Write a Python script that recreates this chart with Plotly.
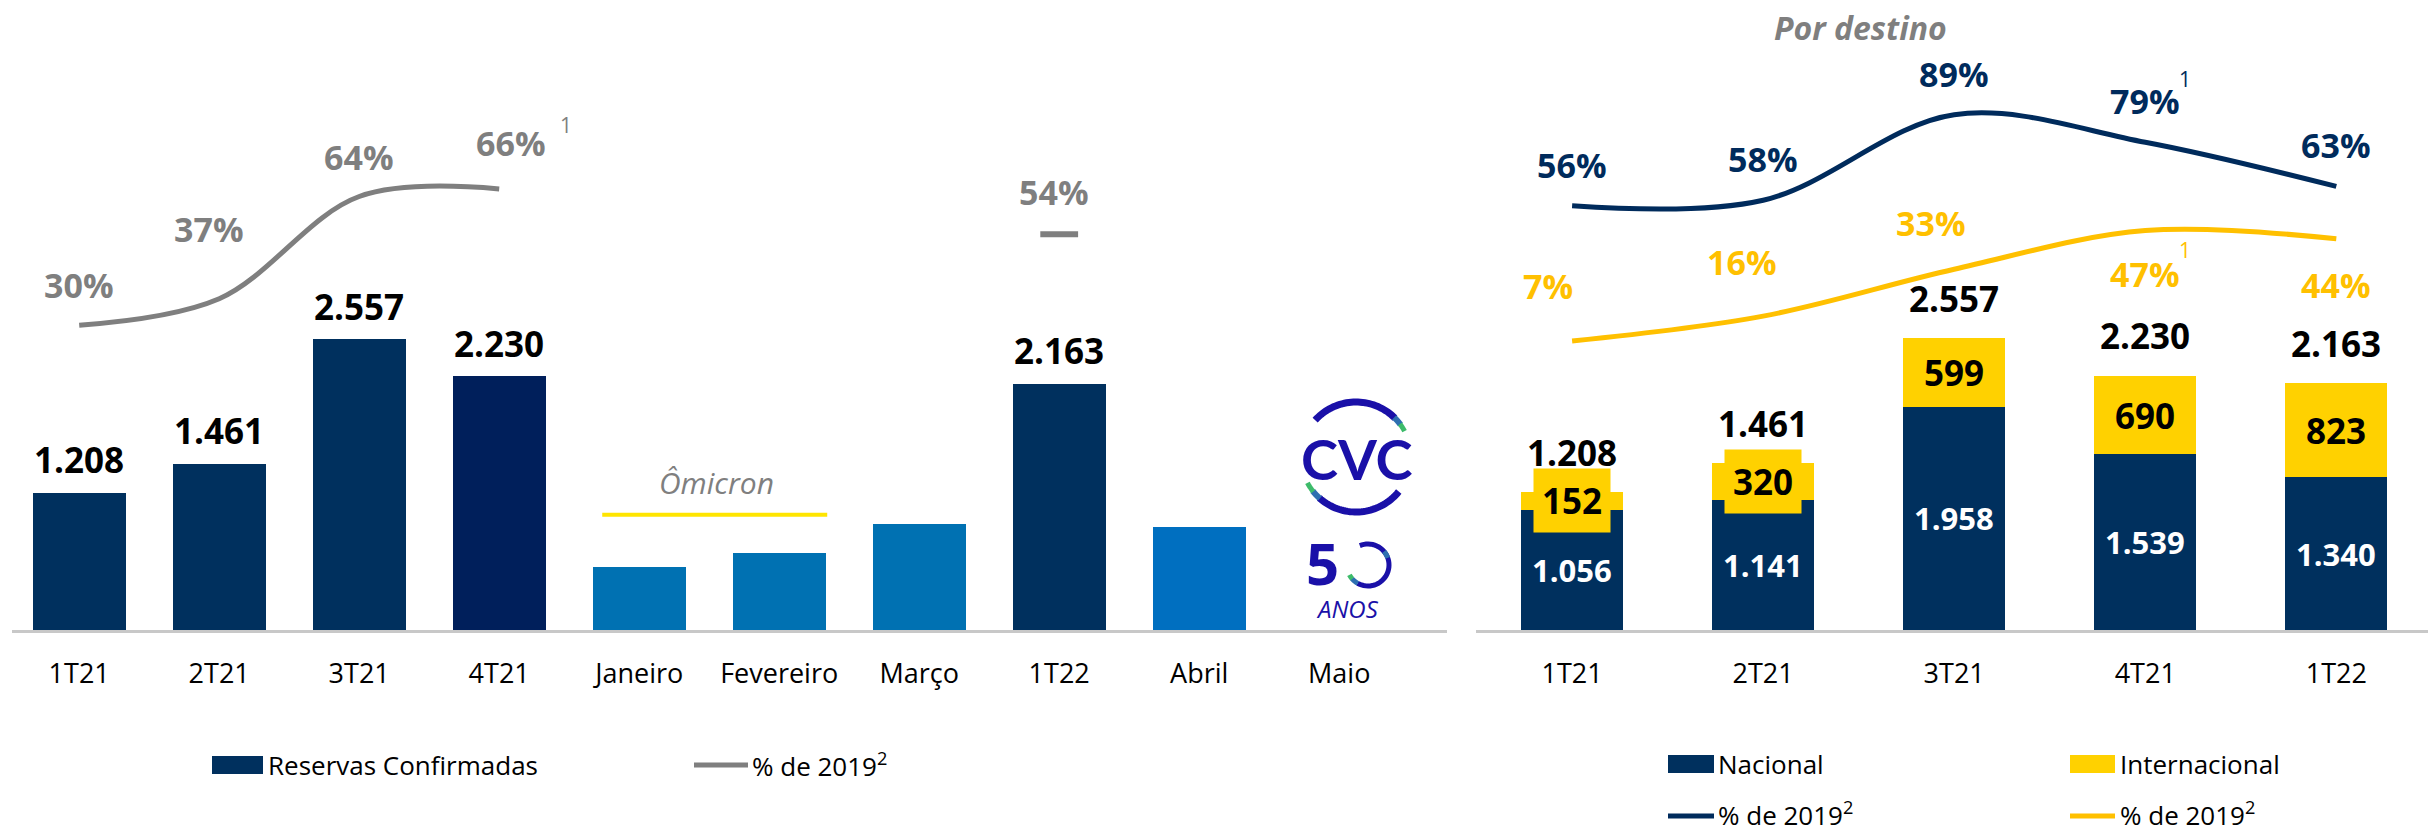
import numpy as np
import plotly.graph_objects as go

W, H = 2428, 834

# ---------------- data ----------------
left_categories = ["1T21", "2T21", "3T21", "4T21", "Janeiro", "Fevereiro", "Março", "1T22", "Abril", "Maio"]
left_bookings = [1208, 1461, 2557, 2230, 550, 675, 935, 2163, 905, None]
left_labeled = ["1T21", "2T21", "3T21", "4T21", "1T22"]
left_pct_categories = ["1T21", "2T21", "3T21", "4T21"]
left_pct_values = [30, 37, 64, 66]
left_pct_1t22_category = "1T22"
left_pct_1t22_value = 54

right_categories = ["1T21", "2T21", "3T21", "4T21", "1T22"]
nacional = [1056, 1141, 1958, 1539, 1340]
internacional = [152, 320, 599, 690, 823]
totals = [1208, 1461, 2557, 2230, 2163]
nacional_pct = [56, 58, 89, 79, 63]
internacional_pct = [7, 16, 33, 47, 44]

# ---------------- styles ----------------
NAVY = "#00305E"
NAVY2 = "#001F5B"
MONTH_BLUE = "#0071B2"
ABRIL_BLUE = "#006FC0"
YELLOW_BAR = "#FFD100"
YELLOW_LINE = "#FFC000"
NAVY_LINE = "#002B5C"
GRAY = "#7F7F7F"
AXIS_GRAY = "#C8C8C8"
LOGO_BLUE = "#1A10A8"
FONT = "Open Sans"

left_colors = {"4T21": NAVY2, "Janeiro": MONTH_BLUE, "Fevereiro": MONTH_BLUE,
               "Março": MONTH_BLUE, "Abril": ABRIL_BLUE}
bar_colors = [left_colors.get(c, NAVY) for c in left_categories]


def fmt(v):
    return f"{v:,}".replace(",", ".")


def px(x):
    return x / W


def py(y):
    return 1 - y / H


fig = go.Figure()

# left bars
fig.add_trace(go.Bar(x=left_categories, y=left_bookings, marker=dict(color=bar_colors, line=dict(width=0)),
                     width=0.664, xaxis="x", yaxis="y", showlegend=False, hoverinfo="skip"))
# left % line
fig.add_trace(go.Scatter(x=left_pct_categories, y=left_pct_values, mode="lines",
                         line=dict(color=GRAY, width=5, shape="spline", smoothing=1.0),
                         xaxis="x", yaxis="y2", showlegend=False, hoverinfo="skip"))
fig.add_trace(go.Scatter(x=[left_pct_1t22_category], y=[left_pct_1t22_value], mode="markers",
                         marker=dict(symbol="line-ew", size=27, line=dict(width=6, color=GRAY)),
                         xaxis="x", yaxis="y2", showlegend=False, hoverinfo="skip"))

# right stacked bars
fig.add_trace(go.Bar(x=right_categories, y=nacional, marker=dict(color=NAVY, line=dict(width=0)),
                     width=0.534, xaxis="x2", yaxis="y3", showlegend=False, hoverinfo="skip"))
fig.add_trace(go.Bar(x=right_categories, y=internacional, marker=dict(color=YELLOW_BAR, line=dict(width=0)),
                     width=0.534, xaxis="x2", yaxis="y3", showlegend=False, hoverinfo="skip"))
fig.add_trace(go.Scatter(x=right_categories, y=nacional_pct, mode="lines",
                         line=dict(color=NAVY_LINE, width=5, shape="spline", smoothing=1.0),
                         xaxis="x2", yaxis="y4", showlegend=False, hoverinfo="skip"))
fig.add_trace(go.Scatter(x=right_categories, y=internacional_pct, mode="lines",
                         line=dict(color=YELLOW_LINE, width=5, shape="spline", smoothing=1.0),
                         xaxis="x2", yaxis="y4", showlegend=False, hoverinfo="skip"))

ann = []
bold = dict(family=FONT, size=35, color="#000000", weight="bold")

# left bar value labels
for c, v in zip(left_categories, left_bookings):
    if c in left_labeled:
        ann.append(dict(x=c, y=v, xref="x", yref="y", text=fmt(v), showarrow=False,
                        yanchor="middle", yshift=33, font=bold))

# left pct labels
left_pct_offsets = {"1T21": (0, 40), "2T21": (-10, 70), "3T21": (0, 40), "4T21": (12, 46)}
pct_font_gray = dict(family=FONT, size=34, color=GRAY, weight="bold")
for c, v in zip(left_pct_categories, left_pct_values):
    dx, dy = left_pct_offsets[c]
    ann.append(dict(x=c, y=v, xref="x", yref="y2", text=f"{v}%", showarrow=False,
                    xshift=dx, yshift=dy, yanchor="middle", font=pct_font_gray))
ann.append(dict(x="4T21", y=left_pct_values[3], xref="x", yref="y2", text="1", showarrow=False,
                xshift=67, yshift=64, yanchor="middle", font=dict(family=FONT, size=21, color=GRAY)))
ann.append(dict(x=left_pct_1t22_category, y=left_pct_1t22_value, xref="x", yref="y2",
                text=f"{left_pct_1t22_value}%", showarrow=False, xshift=-5, yshift=42,
                yanchor="middle", font=pct_font_gray))

# Ômicron
ann.append(dict(x=4.55, y=1300, xref="x", yref="y", text="Ômicron", showarrow=False, yanchor="middle",
                font=dict(family=FONT, size=30, color=GRAY, style="italic")))

# right labels
for i, c in enumerate(right_categories):
    n, it, t = nacional[i], internacional[i], totals[i]
    ann.append(dict(x=c, y=n / 2, xref="x2", yref="y3", text=fmt(n), showarrow=False, yanchor="middle",
                    font=dict(family=FONT, size=31, color="#FFFFFF", weight="bold")))
    ann.append(dict(x=c, y=n + it / 2, xref="x2", yref="y3", text=fmt(it), showarrow=False,
                    yanchor="middle", bgcolor=YELLOW_BAR, borderpad=8, font=bold))
    ann.append(dict(x=c, y=n + it, xref="x2", yref="y3", text=fmt(t), showarrow=False,
                    yanchor="middle", yshift=40, font=bold))

nav_font = dict(family=FONT, size=34, color=NAVY_LINE, weight="bold")
yel_font = dict(family=FONT, size=34, color=YELLOW_LINE, weight="bold")
for c, v in zip(right_categories, nacional_pct):
    ann.append(dict(x=c, y=v, xref="x2", yref="y4", text=f"{v}%", showarrow=False,
                    yanchor="middle", yshift=41, font=nav_font))
int_offsets = {"1T21": (-24, 55), "2T21": (-21, 54), "3T21": (-23, 46), "4T21": (0, -43), "1T22": (0, -46)}
for c, v in zip(right_categories, internacional_pct):
    dx, dy = int_offsets[c]
    ann.append(dict(x=c, y=v, xref="x2", yref="y4", text=f"{v}%", showarrow=False,
                    xshift=dx, yshift=dy, yanchor="middle", font=yel_font))
ann.append(dict(x="4T21", y=nacional_pct[3], xref="x2", yref="y4", text="1", showarrow=False,
                xshift=40, yshift=63, yanchor="middle", font=dict(family=FONT, size=21, color=NAVY_LINE)))
ann.append(dict(x="4T21", y=internacional_pct[3], xref="x2", yref="y4", text="1", showarrow=False,
                xshift=40, yshift=-19, yanchor="middle", font=dict(family=FONT, size=21, color=YELLOW_LINE)))

# title right
ann.append(dict(x=px(1949), y=py(27), xref="paper", yref="paper", text="Por destino", showarrow=False,
                yanchor="middle", font=dict(family=FONT, size=32, color=GRAY, weight="bold", style="italic")))

# legends (manual)
leg_font = dict(family=FONT, size=26, color="#000000")
shapes = []


def rect(x0, y0, x1, y1, color):
    shapes.append(dict(type="rect", xref="paper", yref="paper", x0=px(x0), x1=px(x1), y0=py(y1), y1=py(y0),
                       fillcolor=color, line=dict(width=0)))


def hline(x0, x1, y, color, w=5):
    shapes.append(dict(type="line", xref="paper", yref="paper", x0=px(x0), x1=px(x1), y0=py(y), y1=py(y),
                       line=dict(color=color, width=w)))


def label(x, y, text, font=leg_font, xanchor="left"):
    ann.append(dict(x=px(x), y=py(y), xref="paper", yref="paper", text=text, showarrow=False,
                    xanchor=xanchor, yanchor="middle", font=font))


rect(212, 756, 263, 774, NAVY)
label(266, 765, "Reservas Confirmadas")
hline(694, 748, 765, GRAY)
label(750, 765, "% de 2019<sup>2</sup>")

rect(1668, 755, 1714, 773, NAVY)
label(1716, 764, "Nacional")
rect(2070, 755, 2115, 773, YELLOW_BAR)
label(2118, 764, "Internacional")
hline(1668, 1714, 816, NAVY_LINE)
label(1716, 814, "% de 2019<sup>2</sup>")
hline(2070, 2115, 816, YELLOW_LINE)
label(2118, 814, "% de 2019<sup>2</sup>")

# Ômicron underline (yellow)
shapes.append(dict(type="line", xref="x", yref="y", x0=3.736, x1=5.343, y0=1013, y1=1013,
                   line=dict(color="#FFE500", width=4)))


# CVC logo
def arc_path(cx, cy, r, a0, a1, n=40):
    t = np.radians(np.linspace(a0, a1, n))
    xs = cx + r * np.cos(t)
    ys = cy - r * np.sin(t)
    return "M " + " L ".join(f"{px(a):.6f},{py(b):.6f}" for a, b in zip(xs, ys))


def arc(cx, cy, r, a0, a1, color, w):
    shapes.append(dict(type="path", xref="paper", yref="paper", path=arc_path(cx, cy, r, a0, a1),
                       line=dict(color=color, width=w)))


cx, cy, r = 1356, 457, 55
arc(cx, cy, r, 138, 45, LOGO_BLUE, 7)
arc(cx, cy, r, 46, 36, "#2E6FB0", 6)
arc(cx, cy, r, 37, 28, "#3DBB6A", 5)
arc(cx, cy, r, 321, 228, LOGO_BLUE, 7)
arc(cx, cy, r, 229, 218, "#2E6FB0", 6)
arc(cx, cy, r, 219, 208, "#3DBB6A", 5)
ann.append(dict(x=px(1357), y=py(458), xref="paper", yref="paper", text="CVC", showarrow=False,
                yanchor="middle", font=dict(family="Lato", size=56, color=LOGO_BLUE, weight="bold")))
ann.append(dict(x=px(1322), y=py(562), xref="paper", yref="paper", text="5", showarrow=False,
                yanchor="middle", font=dict(family=FONT, size=58, color=LOGO_BLUE, weight="bold")))
c0x, c0y, r0 = 1368, 565, 21
arc(c0x, c0y, r0, 113, -120, LOGO_BLUE, 5)
arc(c0x, c0y, r0, -119, -140, "#2E6FB0", 5)
arc(c0x, c0y, r0, -139, -152, "#3DBB6A", 5)
arc(c0x, c0y, r0, 40, 20, "#2E6FB0", 5)
ann.append(dict(x=px(1347), y=py(608), xref="paper", yref="paper", text="ANOS", showarrow=False,
                yanchor="middle", font=dict(family=FONT, size=24, color=LOGO_BLUE, style="italic")))

y_dom = [(H - 630) / H, (H - 60) / H]
tickfont = dict(family=FONT, size=27, color="#000000")
fig.update_layout(
    width=W, height=H, margin=dict(l=0, r=0, t=0, b=0),
    paper_bgcolor="white", plot_bgcolor="rgba(0,0,0,0)",
    barmode="stack", showlegend=False,
    xaxis=dict(domain=[px(12), px(1447)], range=[-0.48, 9.77], type="category",
               categoryorder="array", categoryarray=left_categories, anchor="y",
               showline=True, linecolor=AXIS_GRAY, linewidth=3, showgrid=False, zeroline=False,
               ticks="outside", ticklen=18, tickcolor="rgba(0,0,0,0)", tickfont=tickfont),
    yaxis=dict(domain=y_dom, range=[0, 5009], visible=False, anchor="x"),
    yaxis2=dict(overlaying="y", range=[-50.53, 100.07], visible=False, anchor="x"),
    xaxis2=dict(domain=[px(1476), 1], range=[-0.503, 4.48], type="category",
                categoryorder="array", categoryarray=right_categories, anchor="y3",
                showline=True, linecolor=AXIS_GRAY, linewidth=3, showgrid=False, zeroline=False,
                ticks="outside", ticklen=18, tickcolor="rgba(0,0,0,0)", tickfont=tickfont),
    yaxis3=dict(domain=y_dom, range=[0, 4996], visible=False, anchor="x2"),
    yaxis4=dict(overlaying="y3", range=[-97.72, 108.8], visible=False, anchor="x2"),
    annotations=ann, shapes=shapes,
)

fig.write_html("out.html", config={"displayModeBar": False},
               post_script="document.body.style.margin='0px';document.body.style.overflow='hidden';")
